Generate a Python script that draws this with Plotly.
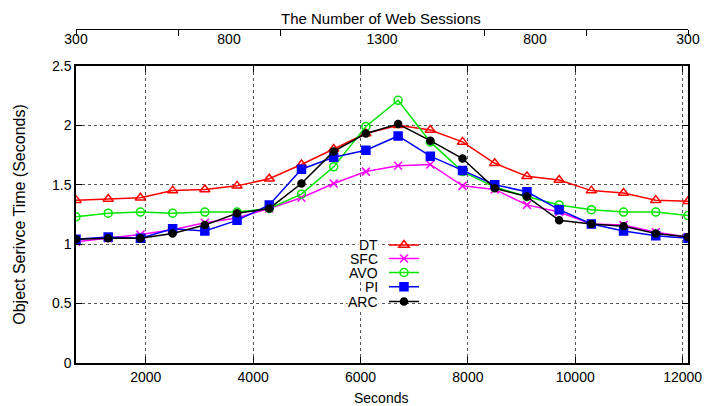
import plotly.graph_objects as go

# Elapsed time of each measurement (seconds)
seconds = [700, 1300, 1900, 2500, 3100, 3700, 4300, 4900, 5500, 6100,
           6700, 7300, 7900, 8500, 9100, 9700, 10300, 10900, 11500, 12100]

# Object service time (seconds) per replacement policy
dt = [1.37, 1.38, 1.39, 1.45, 1.46, 1.49, 1.55, 1.67, 1.80, 1.93,
      2.00, 1.96, 1.86, 1.68, 1.57, 1.54, 1.45, 1.43, 1.37, 1.36]
sfc = [1.02, 1.05, 1.08, 1.12, 1.18, 1.22, 1.30, 1.39, 1.51, 1.61,
       1.66, 1.67, 1.49, 1.46, 1.33, 1.27, 1.17, 1.16, 1.10, 1.06]
avq = [1.23, 1.26, 1.27, 1.26, 1.27, 1.27, 1.30, 1.42, 1.65, 1.99,
       2.21, 1.86, 1.61, 1.48, 1.40, 1.33, 1.29, 1.27, 1.27, 1.24]
pi = [1.04, 1.06, 1.05, 1.13, 1.11, 1.20, 1.33, 1.63, 1.73, 1.79,
      1.91, 1.74, 1.62, 1.50, 1.44, 1.29, 1.17, 1.11, 1.07, 1.05]
arc = [1.04, 1.05, 1.05, 1.09, 1.16, 1.26, 1.30, 1.51, 1.78, 1.93,
       2.01, 1.87, 1.72, 1.47, 1.40, 1.20, 1.17, 1.15, 1.09, 1.06]

series_names = ["DT", "SFC", "AVQ", "PI", "ARC"]
series_values = [dt, sfc, avq, pi, arc]

# Top axis: number of concurrent web sessions (ramps up, then down)
session_labels = ["300", "800", "1300", "800", "300"]
session_label_pos = [0, 1.5, 3, 4.5, 6]
session_tick_pos = [0, 1, 2, 4, 5, 6]

x_ticks = [2000, 4000, 6000, 8000, 10000, 12000]
x_labels = ["2000", "4000", "6000", "8000", "10000", "12000"]
y_ticks = [0, 0.5, 1, 1.5, 2, 2.5]
y_labels = ["0", "0.5", "1", "1.5", "2", "2.5"]

styles = {
    "DT": dict(color="#ff0000", symbol="triangle-up-open", size=9),
    "SFC": dict(color="#ff00ff", symbol="x-thin-open", size=8),
    "AVQ": dict(color="#00e600", symbol="circle-open", size=8),
    "PI": dict(color="#0000ff", symbol="square", size=8),
    "ARC": dict(color="#000000", symbol="circle", size=7),
}

FONT = "Liberation Sans, Arial, sans-serif"
W, H = 714, 406
ML, MR, MT, MB = 76, 18, 20, 43
PW, PH = W - ML - MR, H - MT - MB


def px_x(px):
    return (px - ML) / PW


def px_y(py):
    return (H - MB - py) / PH


fig = go.Figure()

legend_rows = [245, 258.5, 272.5, 286.7, 301.5]
for i, (name, vals) in enumerate(zip(series_names, series_values)):
    st = styles[name]
    lg = "legend" if i == 0 else f"legend{i + 1}"
    fig.add_trace(go.Scatter(
        x=seconds, y=vals, name=name, mode="lines+markers",
        line=dict(color=st["color"], width=1.5),
        marker=dict(symbol=st["symbol"], size=st["size"], color=st["color"],
                    line=dict(color=st["color"], width=1.5)),
        legend=lg, showlegend=True,
    ))

# Empty traces so the session axes above the frame get drawn
for ax in ["x2", "x3", "x4"]:
    fig.add_trace(go.Scatter(x=[None], y=[None], xaxis=ax, yaxis="y",
                             showlegend=False, hoverinfo="skip"))

axis_common = dict(
    showline=True, linecolor="black", linewidth=1.5, mirror="ticks",
    ticks="inside", ticklen=6, tickcolor="black", tickwidth=1,
    showgrid=True, gridcolor="#555555", griddash="dot", gridwidth=1,
    zeroline=False, tickfont=dict(family=FONT, size=14, color="black"),
)

session_axis = dict(overlaying="x", anchor="free", position=px_y(29.3),
                    range=[0, 6], showgrid=False, zeroline=False)

layout = dict(
    width=W, height=H,
    margin=dict(l=ML, r=MR, t=MT, b=MB),
    paper_bgcolor="white", plot_bgcolor="white",
    font=dict(family=FONT, size=14, color="black"),
    xaxis=dict(range=[700, 12100], tickvals=x_ticks, ticktext=x_labels,
               **axis_common),
    yaxis=dict(range=[0, 2.5], tickvals=y_ticks, ticktext=y_labels,
               domain=[0, px_y(65.8)], **axis_common),
    xaxis2=dict(tickvals=session_tick_pos,
                ticktext=[""] * len(session_tick_pos),
                ticks="outside", ticklen=6, tickcolor="black",
                showline=True, linecolor="black", linewidth=1,
                **session_axis),
    xaxis3=dict(tickvals=[0, 6], ticktext=["", ""],
                ticks="inside", ticklen=5, tickcolor="black",
                showline=False, **session_axis),
    xaxis4=dict(tickvals=session_label_pos, ticktext=session_labels,
                ticks="", showline=False,
                tickfont=dict(family=FONT, size=14, color="black"),
                **session_axis),
)

# One single-entry legend per series so the rows sit close together
for i, row in enumerate(legend_rows):
    key = "legend" if i == 0 else f"legend{i + 1}"
    layout[key] = dict(
        x=px_x(388), xanchor="left", y=px_y(row), yanchor="middle",
        bgcolor="rgba(0,0,0,0)", borderwidth=0,
        font=dict(family=FONT, size=10, color="rgba(0,0,0,0)"),
    )

annotations = [
    dict(text="The Number of Web Sessions", x=px_x(385), y=px_y(18),
         xanchor="center", yanchor="middle",
         xref="paper", yref="paper", showarrow=False,
         font=dict(family=FONT, size=15)),
    dict(text="Seconds", x=px_x(385), y=px_y(398),
         xanchor="center", yanchor="middle",
         xref="paper", yref="paper", showarrow=False,
         font=dict(family=FONT, size=14)),
    dict(text="Object Serivce Time (Seconds)", x=px_x(18), y=px_y(214),
         xanchor="center", yanchor="middle",
         xref="paper", yref="paper", showarrow=False, textangle=-90,
         font=dict(family=FONT, size=16)),
]
for name, row in zip(series_names, legend_rows):
    annotations.append(dict(
        text=name, x=px_x(383), y=px_y(row), xref="paper", yref="paper",
        xanchor="right", yanchor="middle", showarrow=False,
        bgcolor="white", borderpad=0,
        font=dict(family=FONT, size=14),
    ))
layout["annotations"] = annotations

fig.update_layout(**layout)
fig.write_html("out.html")
